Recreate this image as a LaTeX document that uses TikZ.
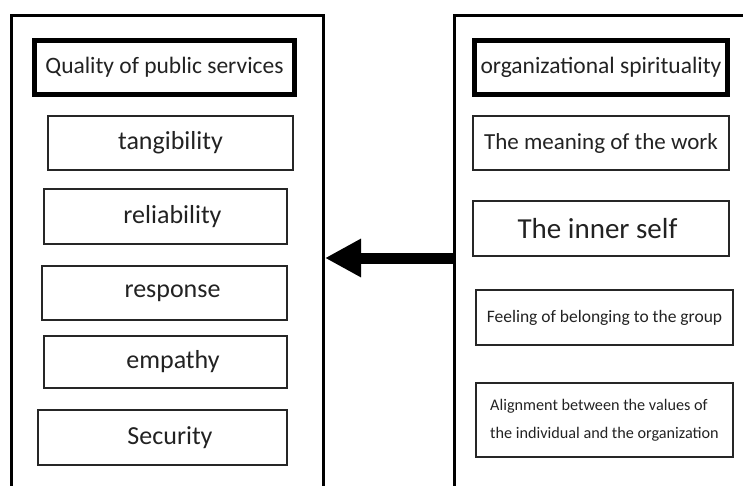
\documentclass[tikz,border=0pt]{standalone}
\usepackage{fontspec}
\setmainfont{Carlito}
\usetikzlibrary{arrows.meta}
\definecolor{ink}{RGB}{34,34,34}
\tikzset{
  frame/.style={draw=black, line width=3pt, rectangle, inner sep=0pt},
  headbox/.style={draw=black, line width=4.5pt, rectangle, inner sep=0pt,
    text=ink, font=\fontsize{23.5}{28}\selectfont},
  itembox/.style={draw=black!85, line width=1.6pt, rectangle, inner sep=0pt,
    text=ink, font=\fontsize{26}{31}\selectfont},
  smallbox/.style={itembox, font=\fontsize{17.5}{28}\selectfont},
  bigarrow/.style={line width=11pt, -{Triangle[length=36pt,width=36pt]}},
}
\begin{document}
\begin{tikzpicture}[x=1pt,y=-1pt]
  \useasboundingbox (0,0) rectangle (743,486);
  \clip (0,0) rectangle (743,486);

  % outer frames, open below the page edge
  \node[frame, minimum width=312pt, minimum height=485pt] (left) at (167.5,258) {};
  \node[frame, minimum width=304pt, minimum height=485pt] (right) at (606,258) {};

  % dependent variable
  \node[headbox, minimum width=260pt, minimum height=54pt] (quality) at (164.5,67.5) {Quality of public services};
  \node[itembox, minimum width=245pt, minimum height=54pt] (tang) at (170.5,143) {tangibility};
  \node[itembox, minimum width=243pt, minimum height=55pt] (rel) at (165.5,216.5) {\hspace*{14pt}reliability};
  \node[itembox, minimum width=245pt, minimum height=54pt] (resp) at (164.5,293) {\hspace*{16pt}response};
  \node[itembox, minimum width=243pt, minimum height=52pt] (emp) at (165.5,362) {\hspace*{15pt}empathy};
  \node[itembox, minimum width=249pt, minimum height=55pt] (sec) at (162.5,437.5) {\hspace*{15pt}Security};

  % independent variable
  \node[headbox, minimum width=253pt, minimum height=54pt] (spirit) at (601,67.5) {organizational spirituality};
  \node[itembox, minimum width=256pt, minimum height=54pt, font=\fontsize{23}{28}\selectfont] (mean) at (601,143) {The meaning of the work};
  \node[itembox, minimum width=256pt, minimum height=55pt, font=\fontsize{29}{34}\selectfont] (inner) at (601,228.5) {The inner self\hspace*{7pt}};
  \node[smallbox, minimum width=257pt, minimum height=55pt] (belong) at (604.5,317.5) {Feeling of belonging to the group};
  \node[smallbox, minimum width=257pt, minimum height=74pt, font=\fontsize{16.2}{28}\selectfont, align=left] (align) at (604.5,420) {Alignment between the values of\\the individual and the organization};

  % influence
  \draw[bigarrow] (right.west) -- (left.east);
\end{tikzpicture}
\end{document}
